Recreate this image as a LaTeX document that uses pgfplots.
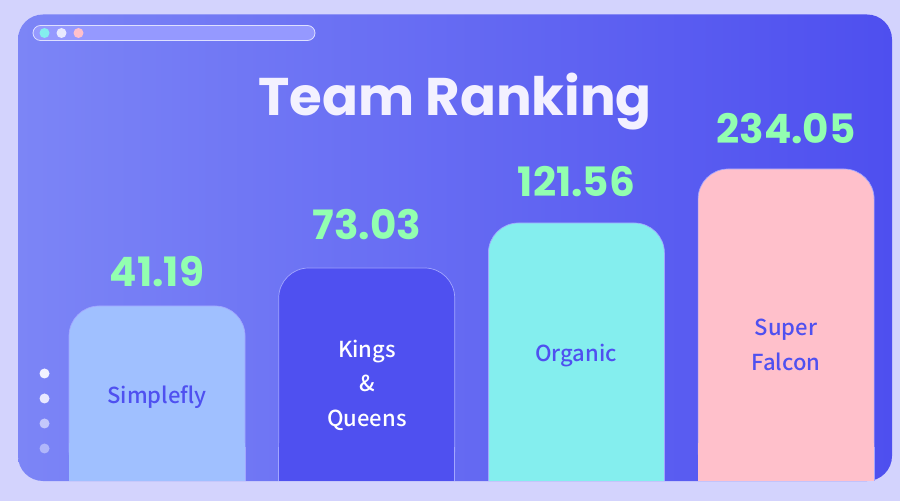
\documentclass[border=0pt]{standalone}
\usepackage{pgfplots}
\pgfplotsset{compat=1.18}
\usepackage{pgfplotstable}
\usepackage{fontspec}
\setmainfont{Poppins}
\newfontfamily\lab{Noto Sans CJK KR Medium}
\definecolor{pagebg}{HTML}{D3D3FD}
\definecolor{panL}{HTML}{7C85F6}
\definecolor{panR}{HTML}{4E4FEF}
\definecolor{cA}{HTML}{A0C0FF}
\definecolor{cB}{HTML}{4F50F0}
\definecolor{cC}{HTML}{84EEEE}
\definecolor{cD}{HTML}{FFC0CB}
\definecolor{val}{HTML}{92FFB0}
\definecolor{ttl}{HTML}{F3F1FF}
\definecolor{barline}{HTML}{A2A6FF}
\pgfplotstableread{
x v lbl
0 41.19 41.19
}\ta
\pgfplotstableread{
x v lbl
1 73.03 73.03
}\tb
\pgfplotstableread{
x v lbl
2 121.56 121.56
}\tc
\pgfplotstableread{
x v lbl
3 234.05 234.05
}\td
\newcommand{\foot}[2]{%
  \addplot[fill=#2,draw=barline,line width=0.7pt,nodes near coords={}] coordinates {(#1,8)};
  \addplot[fill=#2,draw=none,bar width=175.3pt,nodes near coords={}] coordinates {(#1,9)};
}
\begin{document}
\begin{tikzpicture}[x=1pt,y=1pt]
\useasboundingbox (0,0) rectangle (900,501);
\fill[pagebg] (0,0) rectangle (900,501);
\shade[left color=panL,right color=panR,rounded corners=25pt] (18,20) rectangle (892,486.5);
% toolbar
\fill[rounded corners=7.5pt,fill=barline!92!blue,draw=white!65!barline,line width=0.8pt] (33,460.5) rectangle (315,475.5);
\fill[cC] (44.5,468) circle (5);
\fill[white!75!barline] (61.5,468) circle (5);
\fill[cD] (78.5,468) circle (5);
% pager dots
\fill[white!95!blue] (44.5,127.5) circle (5);
\fill[white!90!blue!90] (44.5,102.5) circle (5);
\fill[white!55!panL] (44.5,77.5) circle (5);
\fill[white!40!panL] (44.5,52.5) circle (5);
\begin{axis}[
  at={(18pt,20pt)},anchor=south west,
  scale only axis,width=874pt,height=467pt,
  axis lines=none,
  xmin=-0.663,xmax=3.505,
  ymin=0,ymax=389.05,
  y coord trafo/.code={\pgfmathparse{#1<41.19 ? #1*(175/41.19) : (#1<73.03 ? 175+(#1-41.19)*(38/31.84) : (#1<121.56 ? 213+(#1-73.03)*(45/48.53) : (#1<234.05 ? 258+(#1-121.56)*(54/112.49) : 312+(#1-234.05))))}},
  ybar,bar width=176pt,bar shift=0pt,
  nodes near coords,
  point meta=explicit symbolic,
  every node near coord/.append style={font=\fontsize{40.5}{40.5}\selectfont\bfseries,text=val,anchor=south},
]
\addplot[fill=cA,draw=barline,line width=0.7pt,rounded corners=30pt,nodes near coords style={yshift=15pt}] table[x=x,y=v,meta=lbl]{\ta};
\addplot[fill=cB,draw=barline,line width=0.7pt,rounded corners=30pt,nodes near coords style={yshift=24pt}] table[x=x,y=v,meta=lbl]{\tb};
\addplot[fill=cC,draw=barline,line width=0.7pt,rounded corners=30pt,nodes near coords style={yshift=22pt}] table[x=x,y=v,meta=lbl]{\tc};
\addplot[fill=cD,draw=barline,line width=0.7pt,rounded corners=30pt,nodes near coords style={yshift=21pt}] table[x=x,y=v,meta=lbl]{\td};
% square feet of the bars: the bars are cut flat at the baseline
\foot{0}{cA}
\foot{1}{cB}
\foot{2}{cC}
\foot{3}{cD}
\end{axis}
\node[font=\fontsize{53}{53}\selectfont\bfseries,text=ttl] at (455,399) {Team Ranking};
\tikzset{lb/.style={font=\lab\fontsize{22}{34.5}\selectfont,align=center}}
\node[lb,text=cB] at (157,104) {Simplefly};
\node[lb,text=white] at (367,116) {Kings\\\&\\Queens};
\node[lb,text=cB] at (576,145) {Organic};
\node[lb,text=cB] at (786,156) {Super\\Falcon};
\end{tikzpicture}
\end{document}
